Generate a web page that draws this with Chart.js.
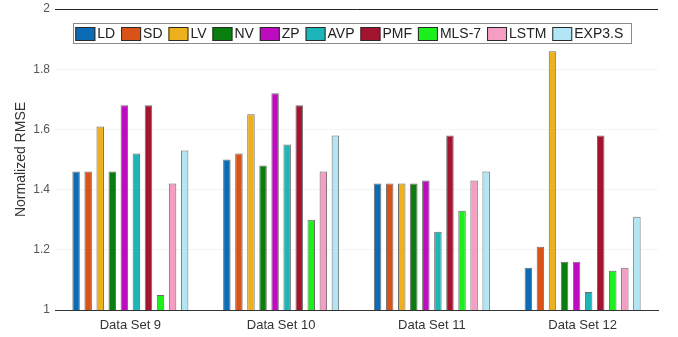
<!DOCTYPE html>
<html>
<head>
<meta charset="utf-8">
<script src="https://cdn.jsdelivr.net/npm/chart.js@4.4.1/dist/chart.umd.min.js"></script>
<style>
  html, body { margin: 0; padding: 0; background: #fff; }
  #wrap { width: 678px; height: 337px; }
</style>
</head>
<body>
<div id="wrap"><canvas id="c" width="678" height="337"></canvas></div>
<script>
// Categories and per-method normalized RMSE
const categories = ['Data Set 9', 'Data Set 10', 'Data Set 11', 'Data Set 12'];
const methods = ['LD', 'SD', 'LV', 'NV', 'ZP', 'AVP', 'PMF', 'MLS-7', 'LSTM', 'EXP3.S'];

const LD    = [1.46, 1.50, 1.42, 1.14];
const SD    = [1.46, 1.52, 1.42, 1.21];
const LV    = [1.61, 1.65, 1.42, 1.86];
const NV    = [1.46, 1.48, 1.42, 1.16];
const ZP    = [1.68, 1.72, 1.43, 1.16];
const AVP   = [1.52, 1.55, 1.26, 1.06];
const PMF   = [1.68, 1.68, 1.58, 1.58];
const MLS7  = [1.05, 1.30, 1.33, 1.13];
const LSTM  = [1.42, 1.46, 1.43, 1.14];
const EXP3S = [1.53, 1.58, 1.46, 1.31];

const yTicks = [1, 1.2, 1.4, 1.6, 1.8, 2];

const seriesValues = [LD, SD, LV, NV, ZP, AVP, PMF, MLS7, LSTM, EXP3S];
const seriesColors = ['#0b6cb5', '#d95319', '#edb120', '#0a7d0f', '#bd0bbf',
                      '#1db6b8', '#a2142f', '#1cf01c', '#f59dc3', '#b2e6f5'];

const datasets = methods.map((name, i) => ({
  label: name,
  data: seriesValues[i],
  backgroundColor: seriesColors[i],
  borderColor: 'rgba(30,30,30,0.65)',
  borderWidth: 1,
  categoryPercentage: 0.8,
  barPercentage: 0.62
}));

// Boxed single-row legend in the top of the plot area
const boxLegend = {
  id: 'boxLegend',
  afterDraw(chart) {
    const ctx = chart.ctx;
    const area = chart.chartArea;
    const left = area.left + 18.3, top = area.top + 14, width = 558, height = 20.3;
    const sw = 20, sh = 14, afterSwatch = 2, padL = 2, padR = 8;
    ctx.save();
    ctx.font = '14px "Liberation Sans", Arial, sans-serif';
    const items = chart.data.datasets.map(d => ({
      label: d.label, color: d.backgroundColor, w: ctx.measureText(d.label).width
    }));
    const natural = items.reduce((s, it) => s + sw + afterSwatch + it.w, 0);
    const gap = (width - padL - padR - natural) / (items.length - 1);

    ctx.fillStyle = '#fff';
    ctx.fillRect(left, top, width, height);
    ctx.strokeStyle = '#8a8a8a';
    ctx.lineWidth = 1;
    ctx.strokeRect(Math.round(left) + 0.5, Math.round(top) + 0.5, Math.round(width), Math.round(height));

    let x = left + padL;
    const sy = top + 4;
    items.forEach(it => {
      ctx.fillStyle = it.color;
      ctx.fillRect(x, sy, sw, sh);
      ctx.strokeStyle = '#2a2a2a';
      ctx.strokeRect(x + 0.5, sy + 0.5, sw - 1, sh - 1);
      x += sw + afterSwatch;
      ctx.fillStyle = '#222';
      ctx.textBaseline = 'middle';
      ctx.textAlign = 'left';
      ctx.fillText(it.label, x, sy + sh / 2 + 0.5);
      x += it.w + gap;
    });
    ctx.restore();
  }
};

new Chart(document.getElementById('c'), {
  type: 'bar',
  data: { labels: categories, datasets },
  plugins: [boxLegend],
  options: {
    responsive: false,
    devicePixelRatio: 1,
    animation: false,
    layout: { padding: { left: 0, right: 20, top: 9, bottom: 0 } },
    plugins: { legend: { display: false }, tooltip: { enabled: false } },
    scales: {
      x: {
        grid: { display: false },
        border: { display: true, color: '#333', width: 1 },
        ticks: {
          color: '#333',
          padding: 0,
          font: { family: '"Liberation Sans", Arial, sans-serif', size: 13 }
        },
        afterFit(scale) { scale.height = 27; }
      },
      y: {
        min: 1,
        max: 2,
        afterBuildTicks(scale) { scale.ticks = yTicks.map(v => ({ value: v })); },
        grid: {
          drawTicks: false,
          color: ctx => (ctx.tick && (ctx.tick.value === 2 || ctx.tick.value === 1)) ? '#222' : '#f4f4f4',
          lineWidth: 1
        },
        border: { display: false },
        ticks: {
          color: '#555',
          padding: 5,
          font: { family: '"Liberation Sans", Arial, sans-serif', size: 12 },
          callback: v => String(+Number(v).toFixed(1))
        },
        title: {
          display: true,
          text: 'Normalized RMSE',
          color: '#333',
          font: { family: '"Liberation Sans", Arial, sans-serif', size: 14 },
          padding: { top: 12.6, bottom: 0 }
        },
        afterFit(scale) {
          scale.width = 55;
          scale.paddingTop = 0;
          scale.paddingBottom = 0;
        }
      }
    }
  }
});
</script>
</body>
</html>
